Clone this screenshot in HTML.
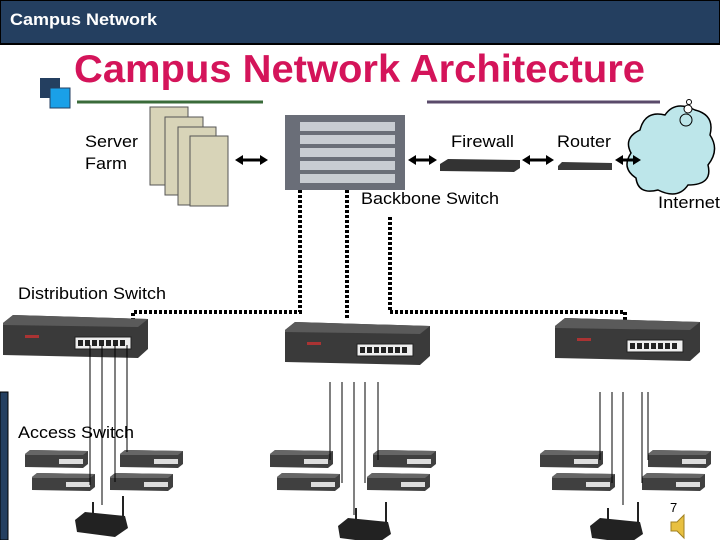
<!DOCTYPE html>
<html><head><meta charset="utf-8"><style>
body{margin:0;width:720px;height:540px;overflow:hidden;background:#fff;font-family:"Liberation Sans",sans-serif}
</style></head><body>
<svg width="720" height="540" xmlns="http://www.w3.org/2000/svg" font-family="Liberation Sans, sans-serif">
<defs>
<g id="dsw">
 <polygon points="0,8 10,0 145,4 145,34 135,43 0,40" fill="#3a3a3a"/>
 <polygon points="0,8 10,0 145,4 135,12 0,10" fill="#5a5a5a"/>
 <rect x="72" y="22" width="56" height="12" fill="#eee" stroke="#222"/>
 <g fill="#222"><rect x="75" y="25" width="5" height="6"/><rect x="82" y="25" width="5" height="6"/><rect x="89" y="25" width="5" height="6"/><rect x="96" y="25" width="5" height="6"/><rect x="103" y="25" width="5" height="6"/><rect x="110" y="25" width="5" height="6"/><rect x="117" y="25" width="5" height="6"/></g>
 <rect x="22" y="20" width="14" height="3" fill="#a33"/>
</g>
<g id="asw">
 <polygon points="0,4 5,0 63,1 63,14 58,18 0,17" fill="#404040"/>
 <polygon points="0,4 5,0 63,1 58,5 0,5" fill="#666"/>
 <rect x="34" y="9" width="24" height="5" fill="#ddd"/>
</g>
<g id="ap">
 <polygon points="0,18 10,10 50,14 53,26 40,35 2,30" fill="#222"/>
 <line x1="18" y1="0" x2="18" y2="14" stroke="#222" stroke-width="2"/>
 <line x1="48" y1="-6" x2="48" y2="16" stroke="#222" stroke-width="2"/>
</g>
</defs>
<rect x="0" y="0" width="720" height="44" fill="#243f60" stroke="#000" stroke-width="2"/>
<text x="10" y="25" fill="#fff" font-size="17" font-weight="bold" textLength="147" lengthAdjust="spacingAndGlyphs">Campus Network</text>
<rect x="40" y="78" width="20" height="20" fill="#243f60"/>
<rect x="50" y="88" width="20" height="20" fill="#1aa0e8" stroke="#243f60" stroke-width="1"/>
<text x="74" y="82" fill="#d4145a" font-size="39" font-weight="bold" textLength="571" lengthAdjust="spacingAndGlyphs">Campus Network Architecture</text>
<line x1="77" y1="102" x2="263" y2="102" stroke="#3a6b3a" stroke-width="3"/>
<line x1="427" y1="102" x2="660" y2="102" stroke="#5a4a6a" stroke-width="3"/>
<g stroke="#555" fill="#d8d4b8">
<rect x="150" y="107" width="38" height="78"/><rect x="165" y="117" width="38" height="78"/><rect x="178" y="127" width="38" height="78"/><rect x="190" y="136" width="38" height="70"/>
</g>
<text x="85" y="147" font-size="17" textLength="53" lengthAdjust="spacingAndGlyphs">Server</text><text x="85" y="169" font-size="17" textLength="42" lengthAdjust="spacingAndGlyphs">Farm</text>
<rect x="285" y="115" width="120" height="75" fill="#6a6e78"/>
<g fill="#c8ccd2"><rect x="300" y="122" width="95" height="9"/><rect x="300" y="135" width="95" height="9"/><rect x="300" y="148" width="95" height="9"/><rect x="300" y="161" width="95" height="9"/><rect x="300" y="174" width="95" height="9"/></g>
<text x="451" y="147" font-size="17" textLength="63" lengthAdjust="spacingAndGlyphs">Firewall</text>
<text x="557" y="147" font-size="17" textLength="54" lengthAdjust="spacingAndGlyphs">Router</text>
<text x="361" y="204" font-size="17" textLength="138" lengthAdjust="spacingAndGlyphs">Backbone Switch</text>
<polygon points="440,164 448,159 520,160 520,168 514,172 440,171" fill="#333"/>
<polygon points="558,166 562,162 612,163 612,170 558,170" fill="#3a3a3a"/>
<path d="M640,130 q5,-20 25,-15 q10,-15 30,-5 q20,5 15,25 q10,15 -2,30 q5,20 -20,20 q-10,15 -30,5 q-20,5 -22,-12 q-15,-10 -5,-25 q-8,-15 9,-23z" fill="#bde6ea" stroke="#000" stroke-width="1.5"/>
<circle cx="686" cy="120" r="6" fill="#bde6ea" stroke="#000"/><circle cx="688" cy="109" r="4" fill="#fff" stroke="#000"/><circle cx="689" cy="102" r="2.5" fill="#fff" stroke="#000"/>
<text x="658" y="208" font-size="17" textLength="62" lengthAdjust="spacingAndGlyphs">Internet</text>
<g stroke="#000" stroke-width="3" fill="#000">
<line x1="241" y1="160" x2="262" y2="160"/><line x1="414" y1="160" x2="431" y2="160"/><line x1="528" y1="160" x2="548" y2="160"/><line x1="622" y1="160" x2="634" y2="160"/>
</g>
<g fill="#000">
<polygon points="235,160 243,155 243,165"/><polygon points="268,160 260,155 260,165"/>
<polygon points="408,160 416,155 416,165"/><polygon points="437,160 429,155 429,165"/>
<polygon points="522,160 530,155 530,165"/><polygon points="554,160 546,155 546,165"/>
<polygon points="615,160 623,155 623,165"/><polygon points="641,160 633,155 633,165"/>
</g>
<text x="18" y="299" font-size="17" textLength="148" lengthAdjust="spacingAndGlyphs">Distribution Switch</text>
<g stroke="#000" stroke-width="4" stroke-dasharray="3,2" fill="none">
<polyline points="300,190 300,312 133,312 133,333"/>
<line x1="347" y1="190" x2="347" y2="320"/>
<polyline points="390,217 390,312 625,312 625,340"/>
</g>
<use href="#dsw" x="3" y="315"/>
<use href="#dsw" x="285" y="322"/>
<use href="#dsw" x="555" y="318"/>
<rect x="0" y="392" width="8" height="148" fill="#243f60" stroke="#000"/>
<text x="18" y="438" font-size="17" textLength="116" lengthAdjust="spacingAndGlyphs">Access Switch</text>
<use href="#asw" x="25" y="450"/><use href="#asw" x="120" y="450"/><use href="#asw" x="32" y="473"/><use href="#asw" x="110" y="473"/>
<use href="#asw" x="270" y="450"/><use href="#asw" x="373" y="450"/><use href="#asw" x="277" y="473"/><use href="#asw" x="367" y="473"/>
<use href="#asw" x="540" y="450"/><use href="#asw" x="648" y="450"/><use href="#asw" x="552" y="473"/><use href="#asw" x="642" y="473"/>
<g stroke="#000" stroke-width="1">
<line x1="90" y1="345" x2="90" y2="485"/><line x1="102" y1="345" x2="102" y2="505"/><line x1="115" y1="345" x2="115" y2="482"/><line x1="127" y1="345" x2="127" y2="452"/>
<line x1="330" y1="382" x2="330" y2="460"/><line x1="342" y1="382" x2="342" y2="483"/><line x1="354" y1="382" x2="354" y2="515"/><line x1="365" y1="382" x2="365" y2="483"/><line x1="378" y1="382" x2="378" y2="460"/>
<line x1="600" y1="392" x2="600" y2="460"/><line x1="612" y1="392" x2="612" y2="483"/><line x1="623" y1="392" x2="623" y2="505"/><line x1="642" y1="392" x2="642" y2="483"/><line x1="648" y1="392" x2="648" y2="460"/>
</g>
<use href="#ap" x="75" y="502"/><use href="#ap" x="338" y="508"/><use href="#ap" x="590" y="508"/>
<text x="670" y="512" font-size="13">7</text>
<polygon points="671,522 677,522 684,515 684,538 677,531 671,531" fill="#e8c040" stroke="#a08020"/>
</svg>
</body></html>
